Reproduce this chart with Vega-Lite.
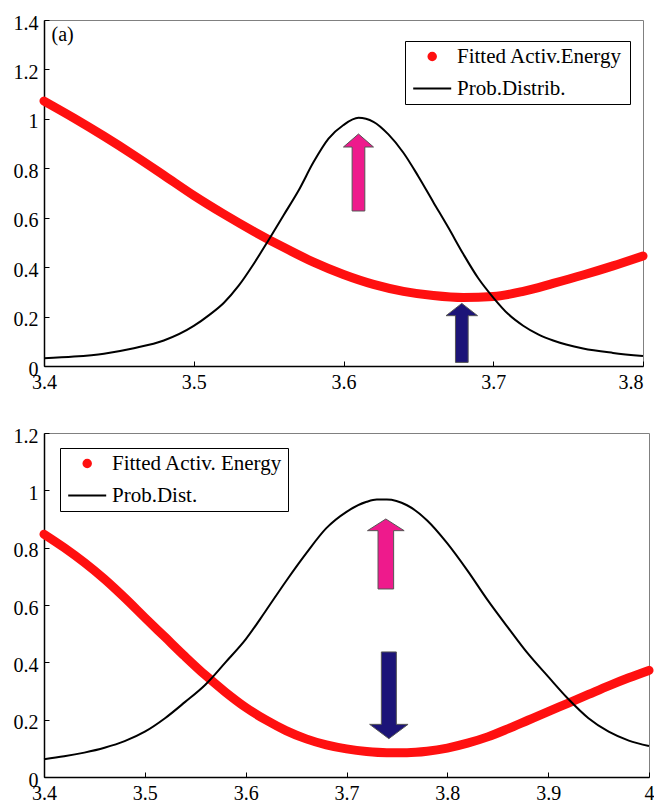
{
  "$schema": "https://vega.github.io/schema/vega-lite/v6.json",
  "padding": {"left": 12, "top": 12, "right": 0, "bottom": 0},
  "background": "white",
  "resolve": {"scale": {"color": "independent", "x": "independent", "y": "independent"}, "legend": {"color": "independent"}},
  "config": {
    "font": "Liberation Serif, Times New Roman, serif",
    "view": {"stroke": "#808080", "strokeWidth": 1},
    "axis": {
      "grid": false,
      "title": null,
      "domainColor": "black",
      "domainWidth": 1.5,
      "tickColor": "black",
      "tickSize": -5,
      "labelPadding": 11,
      "labelFont": "Liberation Serif, Times New Roman, serif",
      "labelFontSize": 20,
      "labelColor": "black",
      "labelFlush": false,
      "labelOverlap": false,
      "format": "~g"
    },
    "axisY": {"labelOffset": 3},
    "text": {"font": "Liberation Serif, Times New Roman, serif"},
    "concat": {"spacing": 32},
    "legend": {
      "orient": "none",
      "title": null,
      "strokeColor": "black",
      "fillColor": "white",
      "padding": 5,
      "labelFont": "Liberation Serif, Times New Roman, serif",
      "labelFontSize": 21,
      "labelColor": "black",
      "labelOffset": 26,
      "labelLimit": 400,
      "symbolSize": 100,
      "rowPadding": 10
    }
  },
  "datasets": {
    "top_fit": [
      {"x": 3.40, "y": 1.072, "s": "Fitted Activ.Energy"},
      {"x": 3.42, "y": 1.003, "s": "Fitted Activ.Energy"},
      {"x": 3.44, "y": 0.930, "s": "Fitted Activ.Energy"},
      {"x": 3.46, "y": 0.853, "s": "Fitted Activ.Energy"},
      {"x": 3.48, "y": 0.772, "s": "Fitted Activ.Energy"},
      {"x": 3.50, "y": 0.690, "s": "Fitted Activ.Energy"},
      {"x": 3.52, "y": 0.615, "s": "Fitted Activ.Energy"},
      {"x": 3.54, "y": 0.545, "s": "Fitted Activ.Energy"},
      {"x": 3.56, "y": 0.480, "s": "Fitted Activ.Energy"},
      {"x": 3.58, "y": 0.420, "s": "Fitted Activ.Energy"},
      {"x": 3.60, "y": 0.370, "s": "Fitted Activ.Energy"},
      {"x": 3.62, "y": 0.330, "s": "Fitted Activ.Energy"},
      {"x": 3.64, "y": 0.302, "s": "Fitted Activ.Energy"},
      {"x": 3.66, "y": 0.285, "s": "Fitted Activ.Energy"},
      {"x": 3.68, "y": 0.277, "s": "Fitted Activ.Energy"},
      {"x": 3.70, "y": 0.281, "s": "Fitted Activ.Energy"},
      {"x": 3.72, "y": 0.302, "s": "Fitted Activ.Energy"},
      {"x": 3.74, "y": 0.334, "s": "Fitted Activ.Energy"},
      {"x": 3.76, "y": 0.368, "s": "Fitted Activ.Energy"},
      {"x": 3.78, "y": 0.405, "s": "Fitted Activ.Energy"},
      {"x": 3.80, "y": 0.445, "s": "Fitted Activ.Energy"}
    ],
    "top_prob": [
      {"x": 3.40, "y": 0.031, "s": "Prob.Distrib."},
      {"x": 3.42, "y": 0.038, "s": "Prob.Distrib."},
      {"x": 3.44, "y": 0.050, "s": "Prob.Distrib."},
      {"x": 3.46, "y": 0.072, "s": "Prob.Distrib."},
      {"x": 3.48, "y": 0.103, "s": "Prob.Distrib."},
      {"x": 3.50, "y": 0.162, "s": "Prob.Distrib."},
      {"x": 3.51, "y": 0.205, "s": "Prob.Distrib."},
      {"x": 3.52, "y": 0.255, "s": "Prob.Distrib."},
      {"x": 3.53, "y": 0.325, "s": "Prob.Distrib."},
      {"x": 3.54, "y": 0.413, "s": "Prob.Distrib."},
      {"x": 3.55, "y": 0.510, "s": "Prob.Distrib."},
      {"x": 3.56, "y": 0.610, "s": "Prob.Distrib."},
      {"x": 3.57, "y": 0.710, "s": "Prob.Distrib."},
      {"x": 3.58, "y": 0.825, "s": "Prob.Distrib."},
      {"x": 3.59, "y": 0.920, "s": "Prob.Distrib."},
      {"x": 3.60, "y": 0.975, "s": "Prob.Distrib."},
      {"x": 3.61, "y": 1.004, "s": "Prob.Distrib."},
      {"x": 3.62, "y": 0.988, "s": "Prob.Distrib."},
      {"x": 3.63, "y": 0.937, "s": "Prob.Distrib."},
      {"x": 3.64, "y": 0.863, "s": "Prob.Distrib."},
      {"x": 3.65, "y": 0.767, "s": "Prob.Distrib."},
      {"x": 3.66, "y": 0.663, "s": "Prob.Distrib."},
      {"x": 3.67, "y": 0.560, "s": "Prob.Distrib."},
      {"x": 3.68, "y": 0.453, "s": "Prob.Distrib."},
      {"x": 3.69, "y": 0.355, "s": "Prob.Distrib."},
      {"x": 3.70, "y": 0.277, "s": "Prob.Distrib."},
      {"x": 3.71, "y": 0.210, "s": "Prob.Distrib."},
      {"x": 3.72, "y": 0.163, "s": "Prob.Distrib."},
      {"x": 3.73, "y": 0.128, "s": "Prob.Distrib."},
      {"x": 3.74, "y": 0.103, "s": "Prob.Distrib."},
      {"x": 3.76, "y": 0.071, "s": "Prob.Distrib."},
      {"x": 3.78, "y": 0.053, "s": "Prob.Distrib."},
      {"x": 3.80, "y": 0.040, "s": "Prob.Distrib."}
    ],
    "top_label": [{"x": 3.405, "y": 1.34, "label": "(a)"}],
    "top_up_pink": [{"x": 3.610, "y": 0.783}],
    "top_up_navy": [{"x": 3.679, "y": 0.134}],
    "bot_fit": [
      {"x": 3.40, "y": 0.847, "s": "Fitted Activ. Energy"},
      {"x": 3.42, "y": 0.800, "s": "Fitted Activ. Energy"},
      {"x": 3.44, "y": 0.748, "s": "Fitted Activ. Energy"},
      {"x": 3.46, "y": 0.690, "s": "Fitted Activ. Energy"},
      {"x": 3.48, "y": 0.625, "s": "Fitted Activ. Energy"},
      {"x": 3.50, "y": 0.556, "s": "Fitted Activ. Energy"},
      {"x": 3.52, "y": 0.488, "s": "Fitted Activ. Energy"},
      {"x": 3.54, "y": 0.420, "s": "Fitted Activ. Energy"},
      {"x": 3.56, "y": 0.355, "s": "Fitted Activ. Energy"},
      {"x": 3.58, "y": 0.296, "s": "Fitted Activ. Energy"},
      {"x": 3.60, "y": 0.243, "s": "Fitted Activ. Energy"},
      {"x": 3.62, "y": 0.199, "s": "Fitted Activ. Energy"},
      {"x": 3.64, "y": 0.162, "s": "Fitted Activ. Energy"},
      {"x": 3.66, "y": 0.133, "s": "Fitted Activ. Energy"},
      {"x": 3.68, "y": 0.112, "s": "Fitted Activ. Energy"},
      {"x": 3.70, "y": 0.098, "s": "Fitted Activ. Energy"},
      {"x": 3.72, "y": 0.089, "s": "Fitted Activ. Energy"},
      {"x": 3.74, "y": 0.085, "s": "Fitted Activ. Energy"},
      {"x": 3.76, "y": 0.085, "s": "Fitted Activ. Energy"},
      {"x": 3.78, "y": 0.090, "s": "Fitted Activ. Energy"},
      {"x": 3.80, "y": 0.101, "s": "Fitted Activ. Energy"},
      {"x": 3.82, "y": 0.118, "s": "Fitted Activ. Energy"},
      {"x": 3.84, "y": 0.140, "s": "Fitted Activ. Energy"},
      {"x": 3.86, "y": 0.168, "s": "Fitted Activ. Energy"},
      {"x": 3.88, "y": 0.198, "s": "Fitted Activ. Energy"},
      {"x": 3.90, "y": 0.228, "s": "Fitted Activ. Energy"},
      {"x": 3.92, "y": 0.258, "s": "Fitted Activ. Energy"},
      {"x": 3.94, "y": 0.288, "s": "Fitted Activ. Energy"},
      {"x": 3.96, "y": 0.318, "s": "Fitted Activ. Energy"},
      {"x": 3.98, "y": 0.346, "s": "Fitted Activ. Energy"},
      {"x": 4.00, "y": 0.372, "s": "Fitted Activ. Energy"}
    ],
    "bot_prob": [
      {"x": 3.40, "y": 0.062, "s": "Prob.Dist."},
      {"x": 3.42, "y": 0.072, "s": "Prob.Dist."},
      {"x": 3.44, "y": 0.085, "s": "Prob.Dist."},
      {"x": 3.46, "y": 0.102, "s": "Prob.Dist."},
      {"x": 3.48, "y": 0.125, "s": "Prob.Dist."},
      {"x": 3.50, "y": 0.158, "s": "Prob.Dist."},
      {"x": 3.52, "y": 0.205, "s": "Prob.Dist."},
      {"x": 3.54, "y": 0.262, "s": "Prob.Dist."},
      {"x": 3.56, "y": 0.322, "s": "Prob.Dist."},
      {"x": 3.58, "y": 0.400, "s": "Prob.Dist."},
      {"x": 3.60, "y": 0.480, "s": "Prob.Dist."},
      {"x": 3.62, "y": 0.580, "s": "Prob.Dist."},
      {"x": 3.64, "y": 0.683, "s": "Prob.Dist."},
      {"x": 3.66, "y": 0.780, "s": "Prob.Dist."},
      {"x": 3.68, "y": 0.868, "s": "Prob.Dist."},
      {"x": 3.70, "y": 0.925, "s": "Prob.Dist."},
      {"x": 3.72, "y": 0.960, "s": "Prob.Dist."},
      {"x": 3.73, "y": 0.968, "s": "Prob.Dist."},
      {"x": 3.74, "y": 0.968, "s": "Prob.Dist."},
      {"x": 3.76, "y": 0.948, "s": "Prob.Dist."},
      {"x": 3.78, "y": 0.895, "s": "Prob.Dist."},
      {"x": 3.80, "y": 0.815, "s": "Prob.Dist."},
      {"x": 3.82, "y": 0.720, "s": "Prob.Dist."},
      {"x": 3.84, "y": 0.617, "s": "Prob.Dist."},
      {"x": 3.86, "y": 0.522, "s": "Prob.Dist."},
      {"x": 3.88, "y": 0.430, "s": "Prob.Dist."},
      {"x": 3.90, "y": 0.350, "s": "Prob.Dist."},
      {"x": 3.92, "y": 0.272, "s": "Prob.Dist."},
      {"x": 3.94, "y": 0.205, "s": "Prob.Dist."},
      {"x": 3.96, "y": 0.158, "s": "Prob.Dist."},
      {"x": 3.98, "y": 0.127, "s": "Prob.Dist."},
      {"x": 4.00, "y": 0.108, "s": "Prob.Dist."}
    ],
    "bot_up_pink": [{"x": 3.739, "y": 0.778}],
    "bot_down_navy": [{"x": 3.742, "y": 0.285}]
  },
  "vconcat": [
    {
      "width": 599,
      "height": 346,
      "encoding": {
        "x": {"field": "x", "type": "quantitative", "scale": {"domain": [3.4, 3.8], "nice": false, "zero": false},
              "axis": {"values": [3.4, 3.5, 3.6, 3.7, 3.8],
                       "labelAlign": {"expr": "datum.value >= 3.79 ? 'right' : 'center'"}}},
        "y": {"field": "y", "type": "quantitative", "scale": {"domain": [0, 1.4], "nice": false},
              "axis": {"values": [0, 0.2, 0.4, 0.6, 0.8, 1, 1.2, 1.4]}}
      },
      "layer": [
        {
          "data": {"name": "top_fit"},
          "mark": {"type": "line", "strokeWidth": 9, "strokeCap": "round", "strokeJoin": "round", "interpolate": "monotone"},
          "encoding": {
            "color": {
              "field": "s", "type": "nominal",
              "scale": {"domain": ["Fitted Activ.Energy", "Prob.Distrib."], "range": ["#ff1010", "#000000"]},
              "legend": {
                "legendX": 361, "legendY": 21,
                "encode": {
                  "symbols": {
                    "update": {
                      "shape": {"signal": "datum.value === 'Prob.Distrib.' ? 'M-1.46,0L6.14,0M40.1,0' : 'M3.09,0A0.75,0.75 0 1,1 1.59,0A0.75,0.75 0 1,1 3.09,0Z'"},
                      "fill": {"signal": "datum.value === 'Prob.Distrib.' ? 'transparent' : '#ff1010'"},
                      "stroke": {"signal": "datum.value === 'Prob.Distrib.' ? '#000000' : 'transparent'"},
                      "strokeWidth": {"value": 2}
                    }
                  }
                }
              }
            }
          }
        },
        {
          "data": {"name": "top_prob"},
          "mark": {"type": "line", "strokeWidth": 2, "interpolate": "monotone"},
          "encoding": {
            "color": {"field": "s", "type": "nominal"}
          }
        },
        {
          "data": {"name": "top_up_pink"},
          "mark": {"type": "point", "shape": "M0,-1L0.39,-0.662L0.165,-0.662L0.165,1L-0.165,1L-0.165,-0.662L-0.39,-0.662Z",
                   "size": 5929, "filled": true, "color": "#ee1a8c", "stroke": "#555555", "strokeWidth": 1, "opacity": 1}
        },
        {
          "data": {"name": "top_up_navy"},
          "mark": {"type": "point", "shape": "M0,-1L0.534,-0.583L0.215,-0.583L0.215,1L-0.215,1L-0.215,-0.583L-0.534,-0.583Z",
                   "size": 3481, "filled": true, "color": "#1c1478", "stroke": "#555555", "strokeWidth": 1, "opacity": 1}
        },
        {
          "data": {"name": "top_label"},
          "mark": {"type": "text", "align": "left", "baseline": "middle", "fontSize": 20, "font": "Liberation Serif, Times New Roman, serif", "color": "black"},
          "encoding": {"text": {"field": "label"}}
        }
      ]
    },
    {
      "width": 605,
      "height": 344,
      "encoding": {
        "x": {"field": "x", "type": "quantitative", "scale": {"domain": [3.4, 4.0], "nice": false, "zero": false},
              "axis": {"values": [3.4, 3.5, 3.6, 3.7, 3.8, 3.9, 4.0]}},
        "y": {"field": "y", "type": "quantitative", "scale": {"domain": [0, 1.2], "nice": false},
              "axis": {"values": [0, 0.2, 0.4, 0.6, 0.8, 1, 1.2]}}
      },
      "layer": [
        {
          "data": {"name": "bot_fit"},
          "mark": {"type": "line", "strokeWidth": 9, "strokeCap": "round", "strokeJoin": "round", "interpolate": "monotone"},
          "encoding": {
            "color": {
              "field": "s", "type": "nominal",
              "scale": {"domain": ["Fitted Activ. Energy", "Prob.Dist."], "range": ["#ff1010", "#000000"]},
              "legend": {
                "legendX": 16, "legendY": 15,
                "encode": {
                  "symbols": {
                    "update": {
                      "shape": {"signal": "datum.value === 'Prob.Dist.' ? 'M-1.46,0L6.14,0M40.3,0' : 'M3.09,0A0.75,0.75 0 1,1 1.59,0A0.75,0.75 0 1,1 3.09,0Z'"},
                      "fill": {"signal": "datum.value === 'Prob.Dist.' ? 'transparent' : '#ff1010'"},
                      "stroke": {"signal": "datum.value === 'Prob.Dist.' ? '#000000' : 'transparent'"},
                      "strokeWidth": {"value": 2}
                    }
                  }
                }
              }
            }
          }
        },
        {
          "data": {"name": "bot_prob"},
          "mark": {"type": "line", "strokeWidth": 2, "interpolate": "monotone"},
          "encoding": {
            "color": {"field": "s", "type": "nominal"}
          }
        },
        {
          "data": {"name": "bot_up_pink"},
          "mark": {"type": "point", "shape": "M0,-1L0.524,-0.666L0.223,-0.666L0.223,1L-0.223,1L-0.223,-0.666L-0.524,-0.666Z",
                   "size": 4900, "filled": true, "color": "#ee1a8c", "stroke": "#555555", "strokeWidth": 1, "opacity": 1}
        },
        {
          "data": {"name": "bot_down_navy"},
          "mark": {"type": "point", "shape": "M0,1L0.443,0.67L0.173,0.67L0.173,-1L-0.173,-1L-0.173,0.67L-0.443,0.67Z",
                   "size": 7517, "filled": true, "color": "#1c1478", "stroke": "#555555", "strokeWidth": 1, "opacity": 1}
        }
      ]
    }
  ]
}
